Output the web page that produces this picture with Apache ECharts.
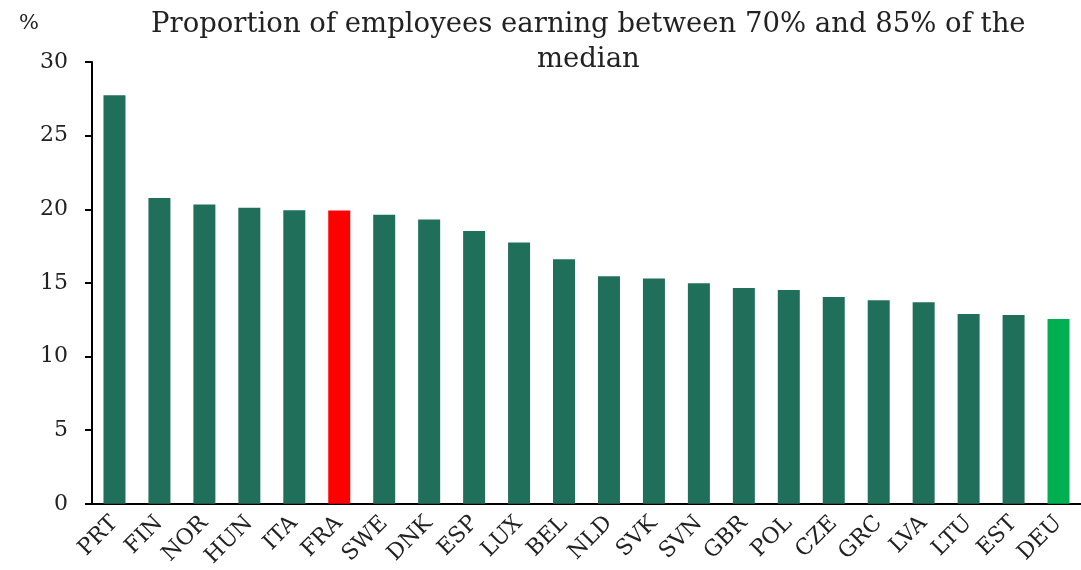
<!DOCTYPE html>
<html>
<head>
<meta charset="utf-8">
<script src="https://cdn.jsdelivr.net/npm/echarts@6/dist/echarts.min.js"></script>
<style>html,body{margin:0;padding:0;background:#fff}#c{width:1081px;height:570px}</style>
</head>
<body>
<div id="c"></div>
<script>
const categories = ['PRT','FIN','NOR','HUN','ITA','FRA','SWE','DNK','ESP','LUX','BEL','NLD','SVK','SVN','GBR','POL','CZE','GRC','LVA','LTU','EST','DEU'];
const values = [27.74,20.77,20.32,20.11,19.93,19.91,19.62,19.30,18.52,17.75,16.60,15.46,15.30,14.98,14.65,14.51,14.04,13.82,13.68,12.89,12.82,12.55];
const highlightRed = ['FRA'];
const highlightGreen = ['DEU'];
const yTicks = [0,5,10,15,20,25,30];
const titleText = 'Proportion of employees earning between 70% and 85% of the\nmedian';
const unitText = '%';

const FONT = '"DejaVu Serif", "Liberation Serif", serif';
const chart = echarts.init(document.getElementById('c'), null, {renderer:'canvas'});
chart.setOption({
  animation: false,
  backgroundColor: '#ffffff',
  grid: {left: 92, right: 0, top: 62, bottom: 64, containLabel: false},
  graphic: [
    {type:'text', left: 151, top: 7, style:{text: titleText, font: '27.5px ' + FONT, fill:'#222', textAlign:'center', lineHeight: 35}},
    {type:'text', left: 19, top: 13, style:{text: unitText, font: '21px ' + FONT, fill:'#222'}}
  ],
  xAxis: {
    type: 'category',
    data: categories,
    axisLine: {lineStyle:{color:'#000', width:2}},
    axisTick: {show:false},
    axisLabel: {rotate:45, color:'#222', fontFamily: FONT, fontSize: 22, margin: 16, interval: 0}
  },
  yAxis: {
    type: 'value',
    min: yTicks[0], max: yTicks[yTicks.length-1], interval: 5,
    splitLine: {show:false},
    axisLine: {show:true, lineStyle:{color:'#000', width:2}},
    axisTick: {show:true, length: 7, lineStyle:{color:'#000', width:2}},
    axisLabel: {color:'#222', fontFamily: FONT, fontSize: 22, margin: 24}
  },
  series: [{
    type: 'bar',
    barWidth: 22,
    data: values.map((v,i)=>({value:v, itemStyle:{color: highlightRed.includes(categories[i]) ? '#ff0000' : highlightGreen.includes(categories[i]) ? '#00b050' : '#206f5a'}}))
  }]
});
</script>
</body>
</html>
